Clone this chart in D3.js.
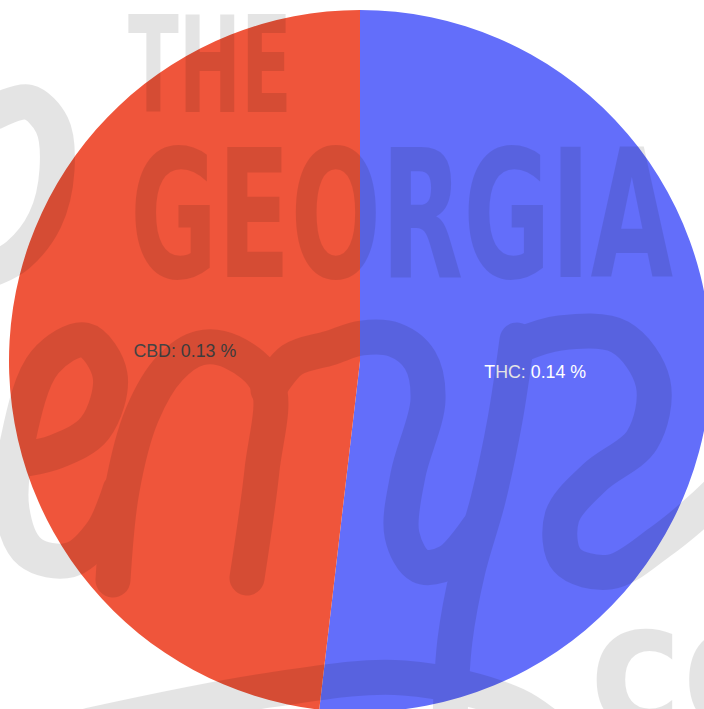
<!DOCTYPE html>
<html>
<head>
<meta charset="utf-8">
<script src="https://cdn.jsdelivr.net/npm/d3@7"></script>
<style>
  body { margin: 0; background: #fff; }
  svg { display: block; }
</style>
</head>
<body>
<svg></svg>
<script>
// pie data (plotly default order: largest first, clockwise from top)
const labels = ['THC', 'CBD'];
const values = [0.14, 0.13];
const colors = ['#636efa', '#ef553b'];
const textColors = ['#ffffff', '#444444'];

// watermark (decoration only): "THE GEORGIA hemp co"
const wmWords = ['THE', 'GEORGIA', 'co'];
const wmScript = [
  // h loop, top left
  [[-5, 112], [28, 102], [52, 125], [57, 170], [45, 220], [18, 255], [-5, 268]],
  // e
  [[-15, 470], [12, 462], [55, 452], [95, 428], [110, 375], [85, 340], [45, 362], [18, 440], [12, 510], [30, 552], [70, 560], [102, 532], [120, 490]],
  // n
  [[113, 580], [122, 490], [142, 415], [170, 368], [200, 348], [232, 352], [268, 385], [262, 470], [247, 578]],
  [[268, 390], [292, 360], [330, 348], [362, 338], [395, 340], [420, 360], [428, 400], [408, 475], [402, 535], [420, 566], [448, 562], [478, 528]],
  // y right arm and descender
  [[517, 340], [505, 420], [488, 500], [468, 570], [455, 640], [450, 720]],
  // last loop
  [[520, 345], [560, 333], [620, 337], [653, 383], [642, 440], [595, 477], [562, 517], [567, 560], [610, 572], [660, 542], [705, 505], [740, 470]],
  // swoosh under the word
  [[90, 725], [270, 690], [404, 678], [516, 705], [565, 740]]
];

const width = 704, height = 709;
const cx = 360, cy = 361, radius = 351;

const svg = d3.select('svg').attr('width', width).attr('height', height);

const pie = d3.pie().sort(null).value((d) => d.value);
const arc = d3.arc().innerRadius(0).outerRadius(radius);

const data = labels.map((l, i) => ({ label: l, value: values[i], i: i }));

const g = svg.append('g').attr('transform', 'translate(' + cx + ',' + cy + ')');

g.selectAll('path.slice')
  .data(pie(data))
  .join('path')
  .attr('class', 'slice')
  .attr('fill', (d) => colors[d.data.i])
  .attr('d', arc);

g.selectAll('text.lbl')
  .data(pie(data))
  .join('text')
  .attr('class', 'lbl')
  .attr('transform', (d) => 'translate(' + arc.centroid(d) + ')')
  .attr('text-anchor', 'middle')
  .attr('dy', '0.36em')
  .attr('fill', (d) => textColors[d.data.i])
  .style('font-family', '"Liberation Sans", Arial, sans-serif')
  .style('font-size', '17.8px')
  .text((d) => d.data.label + ': ' + d3.format('.2f')(d.data.value) + ' %');

// watermark overlay
const wm = svg.append('g').attr('opacity', 0.1);
const wmFont = '"DejaVu Sans Condensed", "DejaVu Sans", sans-serif';

wm.append('text')
  .attr('x', 128).attr('y', 112)
  .attr('textLength', 164).attr('lengthAdjust', 'spacingAndGlyphs')
  .style('font-family', wmFont).style('font-weight', 'bold').style('font-size', '133px')
  .text(wmWords[0]);

wm.append('text')
  .attr('x', 130).attr('y', 277)
  .attr('textLength', 543).attr('lengthAdjust', 'spacingAndGlyphs')
  .style('font-family', wmFont).style('font-weight', 'bold').style('font-size', '178px')
  .text(wmWords[1]);

wm.append('text')
  .attr('x', 590).attr('y', 728)
  .attr('textLength', 200).attr('lengthAdjust', 'spacingAndGlyphs')
  .style('font-family', wmFont).style('font-weight', 'bold').style('font-size', '178px')
  .text(wmWords[2]);

const scriptLine = d3.line().curve(d3.curveCatmullRom.alpha(0.5));
wm.append('g')
  .attr('fill', 'none')
  .attr('stroke', '#000')
  .attr('stroke-width', 35)
  .attr('stroke-linecap', 'round')
  .attr('stroke-linejoin', 'round')
  .selectAll('path')
  .data(wmScript)
  .join('path')
  .attr('d', scriptLine);
</script>
</body>
</html>
